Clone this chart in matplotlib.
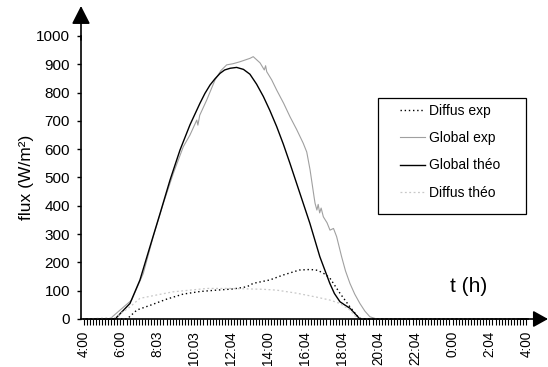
import matplotlib
matplotlib.use("Agg")
import matplotlib.pyplot as plt
from matplotlib.patches import Rectangle
import numpy as np

plt.rcParams['font.family'] = ['Liberation Sans', 'DejaVu Sans']

# ---- data (hours since midnight, 4:00 -> next day 4:00 = 28) ----
tick_labels = ["4:00", "6:00", "8:03", "10:03", "12:04", "14:00", "16:04",
               "18:04", "20:04", "22:04", "0:00", "2:04", "4:00"]
tick_hours = [4, 6, 8, 10, 12, 14, 16, 18, 20, 22, 24, 26, 28]

diffus_exp_t = [4.0, 6.3, 6.41, 6.9, 7.6, 8.5, 9.4, 10.3, 11.2, 12.1, 12.86, 13.2,
                14.1, 14.8, 15.7, 16.3, 16.7, 17.1, 17.36, 17.9, 18.44, 18.87, 19.07, 28.0]
diffus_exp_v = [0, 0, 3, 32, 48, 70, 88, 97, 102, 106, 114, 126,
                138, 155, 173, 175, 172, 158, 144, 91, 43, 8, 0, 0]

global_exp_t = [4.0, 5.44, 5.6, 6.61, 7.24, 7.78, 8.33, 8.87, 9.41, 9.77, 10.14, 10.2,
                10.3, 10.68, 11.13, 11.45, 11.76, 12.1, 12.48, 13.02, 13.2, 13.57, 13.8,
                13.87, 13.93, 14.2, 14.47, 14.85, 15.19, 15.55, 15.91, 16.1, 16.28, 16.5,
                16.55, 16.65, 16.72, 16.8, 16.88, 17.0, 17.2, 17.36, 17.55, 17.72, 17.99,
                18.2, 18.44, 18.7, 18.98, 19.25, 19.52, 19.89, 28.0]
global_exp_v = [0, 0, 10, 67, 161, 291, 409, 515, 609, 650, 703, 685,
                720, 774, 845, 878, 898, 902, 909, 921, 927, 905, 880,
                895, 874, 845, 809, 762, 715, 670, 621, 590, 527, 430,
                409, 385, 405, 375, 392, 361, 340, 314, 320, 291, 220,
                170, 126, 88, 55, 28, 8, 0, 0]

global_theo_t = [4.0, 5.71, 6.52, 7.06, 7.60, 8.15, 8.69, 9.23, 9.77, 10.31, 10.58,
                 10.86, 11.13, 11.40, 11.65, 11.95, 12.30, 12.67, 13.02, 13.38, 13.75,
                 14.1, 14.47, 14.83, 15.19, 15.73, 16.27, 16.81, 17.35, 17.60, 17.90,
                 18.15, 18.44, 18.70, 18.98, 28.0]
global_theo_v = [0, 0, 55, 138, 255, 373, 491, 597, 686, 762, 797,
                 827, 849, 868, 880, 886, 889, 882, 865, 830, 786,
                 737, 680, 618, 550, 444, 338, 220, 126, 90, 61,
                 50, 38, 20, 0, 0]

diffus_theo_t = [4.0, 5.71, 6.52, 7.06, 7.98, 8.85, 9.77, 10.7, 11.94, 13.73, 14.47,
                 15.57, 16.65, 17.35, 17.9, 18.44, 18.87, 28.0]
diffus_theo_v = [0, 5, 43, 73, 85, 96, 102, 108, 108, 105, 102,
                 91, 77, 67, 55, 32, 0, 0]

W, H = 548, 367
fig = plt.figure(figsize=(W / 100, H / 100), dpi=100)
ax_l, ax_r, ax_b, ax_t = 81, 527.5, 319, 36
ax = fig.add_axes([ax_l / W, 1 - ax_b / H, (ax_r - ax_l) / W, (ax_b - ax_t) / H])

px_per_h = 18.45
x0 = 4 - (83.5 - ax_l) / px_per_h
ax.set_xlim(x0, x0 + (ax_r - ax_l) / px_per_h)
ax.set_ylim(0, 1000)

l1, = ax.plot(diffus_exp_t, diffus_exp_v, color='black', lw=1.0, ls=(0, (1, 2)), label='Diffus exp', clip_on=False)
l2, = ax.plot(global_exp_t, global_exp_v, color='#a0a0a0', lw=0.8, label='Global exp', clip_on=False)
l3, = ax.plot(global_theo_t, global_theo_v, color='black', lw=1.0, label='Global théo', clip_on=False)
l4, = ax.plot(diffus_theo_t, diffus_theo_v, color='#c8c8c8', lw=0.9, ls=(0, (1.5, 2)), label='Diffus théo', clip_on=False)

for s in ['top', 'right']:
    ax.spines[s].set_visible(False)
for s in ['left', 'bottom']:
    ax.spines[s].set_linewidth(1.2)

ax.set_yticks(np.arange(0, 1001, 100))
ax.tick_params(axis='y', direction='out', length=3, width=1, labelsize=11, pad=5)
ax.set_xticks(tick_hours)
ax.set_xticklabels(tick_labels, rotation=90)
ax.set_xticks(np.arange(4, 28.01, 1 / 6), minor=True)
ax.tick_params(axis='x', which='both', direction='out', length=4, width=0.8, labelsize=9.8, pad=4.5)

fig.text(27 / W, 1 - 177 / H, 'flux (W/m²)', rotation=90, ha='center', va='center', fontsize=12.5)
fig.text(469 / W, 1 - 287 / H, 't (h)', ha='center', va='center', fontsize=15)

# arrows
ax.annotate('', xy=(81, H - 6), xytext=(81, H - 40), xycoords='figure pixels',
            textcoords='figure pixels',
            arrowprops=dict(arrowstyle='-|>,head_length=0.55,head_width=0.28', color='black',
                            lw=1.2, mutation_scale=20, shrinkA=0, shrinkB=0))
ax.annotate('', xy=(548, H - 319), xytext=(520, H - 319), xycoords='figure pixels',
            textcoords='figure pixels',
            arrowprops=dict(arrowstyle='-|>,head_length=0.45,head_width=0.25', color='black',
                            lw=1.2, mutation_scale=20, shrinkA=0, shrinkB=0))

# legend
fig.add_artist(Rectangle((378 / W, 1 - 214 / H), 148 / W, 116 / H, transform=fig.transFigure,
                         fill=False, edgecolor='black', lw=0.9))
fig.legend(handles=[l1, l2, l3, l4], loc='upper left',
           bbox_to_anchor=(400 / W, 1 - 104 / H), bbox_transform=fig.transFigure,
           frameon=False, fontsize=10, borderpad=0, borderaxespad=0,
           handlelength=1.8, handletextpad=0.3, labelspacing=0.95)

fig.savefig('out.png', dpi=100)
